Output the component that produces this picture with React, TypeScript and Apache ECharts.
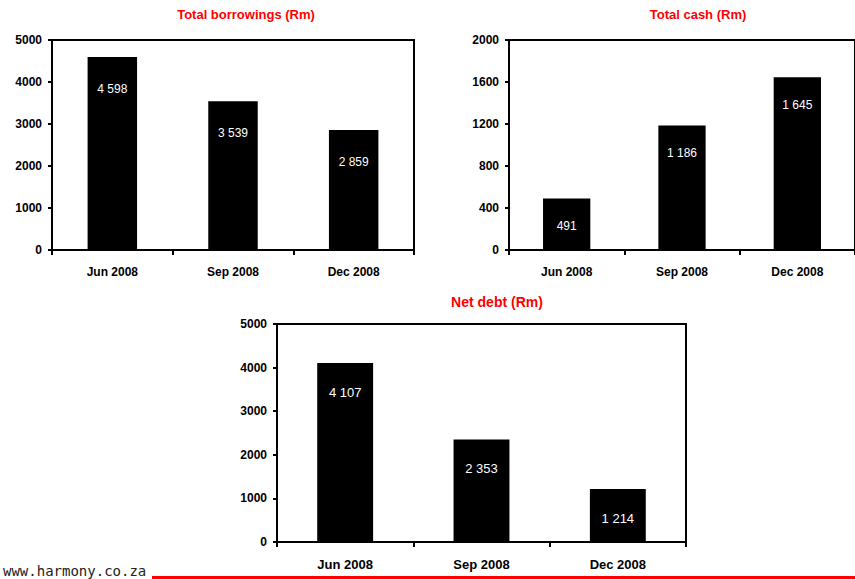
import React, { useEffect, useRef } from "react";
import * as echarts from "echarts";

const categories = ["Jun 2008", "Sep 2008", "Dec 2008"];
const borrowings = [4598, 3539, 2859];
const cash = [491, 1186, 1645];
const netDebt = [4107, 2353, 1214];
const titles = ["Total borrowings (Rm)", "Total cash (Rm)", "Net debt (Rm)"];
const yMax = [5000, 2000, 5000];
const yStep = [1000, 400, 1000];
const footerText = "www.harmony.co.za";

const fmt = (v: number) => String(v).replace(/\B(?=(\d{3})+(?!\d))/g, " ");

export default function App() {
  const ref = useRef<HTMLDivElement>(null);
  useEffect(() => {
    if (!ref.current) return;
    const chart = echarts.init(ref.current, null, { renderer: "svg" });
    const font = "Liberation Sans, Arial, sans-serif";
    const grids = [
      { left: 52, top: 40, width: 362, height: 210 },
      { left: 509, top: 40, width: 354, height: 210 },
      { left: 277, top: 324, width: 409, height: 218 },
    ];
    const seriesData = [borrowings, cash, netDebt];
    const xFont = [12, 12, 13];
    const yFont = [12, 12, 12];
    const valFont = [12, 12, 13];
    const labelDist = [26, 22, 23];
    const option: any = {
      animation: false,
      backgroundColor: "#fff",
      grid: grids.map((g) => ({
        ...g,
        show: true,
        borderColor: "#000",
        borderWidth: 2,
        backgroundColor: "#fff",
      })),
      xAxis: grids.map((_, i) => ({
        type: "category",
        gridIndex: i,
        data: categories,
        axisLine: { lineStyle: { color: "#000", width: 2 } },
        axisTick: { show: true, length: 5, lineStyle: { color: "#000", width: 2 } },
        axisLabel: {
          color: "#000",
          fontWeight: "bold",
          fontFamily: font,
          fontSize: xFont[i],
          margin: 16,
        },
        splitLine: { show: false },
      })),
      yAxis: grids.map((_, i) => ({
        type: "value",
        gridIndex: i,
        min: 0,
        max: yMax[i],
        interval: yStep[i],
        axisLine: { show: true, lineStyle: { color: "#000", width: 2 } },
        axisTick: { show: true, length: 4, lineStyle: { color: "#000", width: 2 } },
        axisLabel: {
          color: "#000",
          fontWeight: "bold",
          fontFamily: font,
          fontSize: yFont[i],
          margin: 10,
          formatter: (v: number) => String(v),
        },
        splitLine: { show: false },
      })),
      series: seriesData.map((d, i) => ({
        type: "bar",
        xAxisIndex: i,
        yAxisIndex: i,
        data: d,
        barWidth: "41%",
        itemStyle: { color: "#000" },
        label: {
          show: true,
          position: "insideTop",
          distance: labelDist[i],
          color: "#fff",
          fontFamily: font,
          fontSize: valFont[i],
          formatter: (p: any) => fmt(p.value),
        },
      })),
      graphic: [
        {
          type: "text",
          x: 246,
          y: 14,
          style: {
            text: titles[0],
            fill: "#ff0000",
            font: `bold 13px ${font}`,
            align: "center",
            verticalAlign: "middle",
          },
        },
        {
          type: "text",
          x: 698,
          y: 14,
          style: {
            text: titles[1],
            fill: "#ff0000",
            font: `bold 13px ${font}`,
            align: "center",
            verticalAlign: "middle",
          },
        },
        {
          type: "text",
          x: 497,
          y: 302,
          style: {
            text: titles[2],
            fill: "#ff0000",
            font: `bold 14px ${font}`,
            align: "center",
            verticalAlign: "middle",
          },
        },
        {
          type: "rect",
          shape: { x: 152, y: 576, width: 703, height: 3 },
          style: { fill: "#ff0000" },
        },
        {
          type: "text",
          x: 3,
          y: 564,
          style: {
            text: footerText,
            fill: "#222",
            font: `14px "DejaVu Sans Mono", monospace`,
            verticalAlign: "top",
          },
        },
      ],
    };
    chart.setOption(option);
    return () => chart.dispose();
  }, []);
  return (
    <div
      ref={ref}
      style={{ position: "absolute", left: 0, top: 0, width: 855, height: 579 }}
    />
  );
}
